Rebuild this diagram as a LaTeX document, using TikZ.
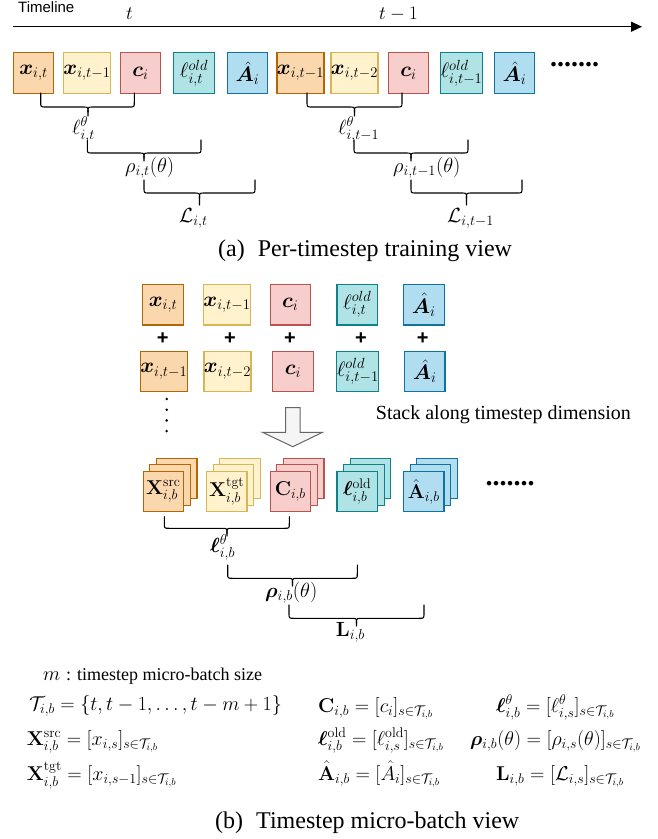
\RequirePackage{fix-cm}
\documentclass[tikz,border=0pt]{standalone}
\usepackage{amsmath,bm}
\usepackage[no-math]{fontspec}
\setmainfont{Liberation Serif}
\newfontfamily\sansf{Liberation Sans}
\usetikzlibrary{arrows.meta}
\definecolor{orF}{HTML}{FAD7AC}\definecolor{orD}{HTML}{B46504}
\definecolor{yeF}{HTML}{FFF2CC}\definecolor{yeD}{HTML}{D6B656}
\definecolor{reF}{HTML}{F8CECC}\definecolor{reD}{HTML}{B85450}
\definecolor{teF}{HTML}{B0E3E6}\definecolor{teD}{HTML}{0E8088}
\definecolor{blF}{HTML}{B1DDF0}\definecolor{blD}{HTML}{10739E}
\definecolor{arF}{HTML}{F5F5F5}\definecolor{arD}{HTML}{666666}
\tikzset{
  cell/.style={draw, line width=1.1pt, minimum width=40.5pt, minimum height=40.5pt, inner sep=0pt, font=\fontsize{21}{23}\selectfont},
  orbox/.style={cell, fill=orF, draw=orD},
  yebox/.style={cell, fill=yeF, draw=yeD},
  rebox/.style={cell, fill=reF, draw=reD},
  tebox/.style={cell, fill=teF, draw=teD},
  blbox/.style={cell, fill=blF, draw=blD},
  stk/.style={font=\fontsize{20}{22}\selectfont},
  brc/.style={line width=1.1pt, line join=round, line cap=round},
  lbl/.style={inner sep=0pt, anchor=base west, font=\fontsize{20.5}{22}\selectfont},
  leg/.style={inner sep=0pt, anchor=base west, font=\fontsize{20}{22}\selectfont},
  plus/.style={inner sep=0pt, font=\sansf\bfseries\fontsize{20}{22}\selectfont},
  dotrow/.style={inner sep=0pt, font=\bfseries\fontsize{28}{28}\selectfont},
  captxt/.style={inner sep=0pt, anchor=base west, font=\fontsize{24}{26}\selectfont},
}
% brace: L, R, top, mid, tip, bottom
\newcommand{\curlyb}[6]{%
  \draw[brc] ({#1},{#3}) -- ({#1},{#4-5}) .. controls ({#1},{#4}) .. ({#1+5},{#4}) -- ({#5-5},{#4}) .. controls ({#5},{#4}) .. ({#5},{#4+5}) -- ({#5},{#6});
  \draw[brc] ({#2},{#3}) -- ({#2},{#4-5}) .. controls ({#2},{#4}) .. ({#2-5},{#4}) -- ({#5+5},{#4}) .. controls ({#5},{#4}) .. ({#5},{#4+5});
}
\newcommand{\stackbox}[5]{% name, style, x, y, label
  \node[#2] (#1r) at ({#3+13.4},{#4-13}) {};
  \node[#2] (#1m) at ({#3+6.7},{#4-6.5}) {};
  \node[#2,stk] (#1) at (#3,#4) {#5};
}
\newcommand{\hatA}{\hat{\bm{A}}}
\begin{document}
\begin{tikzpicture}[x=1pt,y=-1pt]
\useasboundingbox (0,0) rectangle (657,839);
% ---------- timeline ----------
\node[inner sep=0pt, anchor=base west, font=\sansf\fontsize{15}{17}\selectfont] (tlabel) at (18,12) {Timeline};
\coordinate (tl0) at (13,26.7);
\coordinate (tl1) at (642,26.7);
\draw[line width=1.3pt, -{Triangle[length=11pt,width=10pt]}] (tl0) -- (tl1);
\node[inner sep=0pt, anchor=base west, font=\fontsize{19}{21}\selectfont] (tt) at (126,19) {$t$};
\node[inner sep=0pt, anchor=base west, font=\fontsize{19}{21}\selectfont] (tt1) at (379,19) {$t-1$};
% ---------- part (a) boxes ----------
\node[orbox] (a1) at (33.5,73) {$\bm{x}_{i,t}$};
\node[yebox] (a2) at (87,73) {$\bm{x}_{i,t-1}$};
\node[rebox] (a3) at (140.5,73) {$\bm{c}_i$};
\node[tebox] (a4) at (194,73) {$\ell^{old}_{i,t}$};
\node[blbox] (a5) at (247.5,73) {$\hatA_i$};
\node[orbox] (a6) at (300.5,73) {$\bm{x}_{i,t-1}$};
\node[yebox] (a7) at (354.5,73) {$\bm{x}_{i,t-2}$};
\node[rebox] (a8) at (408.5,73) {$\bm{c}_i$};
\node[tebox] (a9) at (461.5,73) {$\ell^{old}_{i,t-1}$};
\node[blbox] (a10) at (514.5,73) {$\hatA_i$};
\node[dotrow] (adots) at (574.7,65) {.......};
% braces (a)
\curlyb{40.7}{134.3}{93}{107}{88}{116}
\curlyb{87.3}{201}{140}{153}{144}{161}
\curlyb{144}{255}{180}{193}{199.5}{205}
\curlyb{307}{402}{93}{107}{354.5}{116}
\curlyb{354}{468}{140}{153}{411}{161}
\curlyb{411}{522}{180}{193}{466.5}{205}
\node[lbl] (la1) at (72,134) {$\ell^{\theta}_{i,t}$};
\node[lbl] (la2) at (125,172) {$\rho_{i,t}(\theta)$};
\node[lbl] (la3) at (179,222) {$\mathcal{L}_{i,t}$};
\node[lbl] (la4) at (338,134) {$\ell^{\theta}_{i,t-1}$};
\node[lbl] (la5) at (393,172) {$\rho_{i,t-1}(\theta)$};
\node[lbl] (la6) at (447,222) {$\mathcal{L}_{i,t-1}$};
\node[captxt] (capa) at (218,256) {(a)\hspace{13pt}Per-timestep training view};
% ---------- part (b) ----------
\node[orbox] (b11) at (163,304.7) {$\bm{x}_{i,t}$};
\node[yebox] (b12) at (227,304.7) {$\bm{x}_{i,t-1}$};
\node[rebox] (b13) at (290.3,304.7) {$\bm{c}_i$};
\node[tebox] (b14) at (357.2,304.7) {$\ell^{old}_{i,t}$};
\node[blbox] (b15) at (423.8,304.7) {$\hatA_i$};
\node[plus] (p1) at (162.7,338.3) {+};
\node[plus] (p2) at (230,338.3) {+};
\node[plus] (p3) at (290,338.3) {+};
\node[plus] (p4) at (361,338.3) {+};
\node[plus] (p5) at (422.7,338.3) {+};
\node[orbox] (b21) at (163.8,371.3) {$\bm{x}_{i,t-1}$};
\node[yebox] (b22) at (227.5,371.3) {$\bm{x}_{i,t-2}$};
\node[rebox] (b23) at (293,371.3) {$\bm{c}_i$};
\node[tebox] (b24) at (357.8,371.3) {$\ell^{old}_{i,t-1}$};
\node[blbox] (b25) at (424.7,371.3) {$\hatA_i$};
\foreach \k in {0,1,2,3} \fill ({166.7},{399+\k*10.7}) circle (1.4pt);
\draw[fill=arF, draw=arD, line width=1pt] (285.7,407.7) -- (300,407.7) -- (300,432.3) -- (322.5,432.3) -- (292.8,446.7) -- (262.5,432.3) -- (285.7,432.3) -- cycle;
\node[inner sep=0pt, anchor=base west, font=\fontsize{20}{22}\selectfont] (stack) at (375.7,419.5) {Stack along timestep dimension};
% stacked
\stackbox{s1}{orbox}{163.3}{491.5}{$\mathbf{X}^{\mathrm{src}}_{i,b}$}
\stackbox{s2}{yebox}{226.7}{491.5}{$\mathbf{X}^{\mathrm{tgt}}_{i,b}$}
\stackbox{s3}{rebox}{290.3}{491.5}{$\mathbf{C}_{i,b}$}
\stackbox{s4}{tebox}{357.2}{491.5}{$\bm{\ell}^{\mathrm{old}}_{i,b}$}
\stackbox{s5}{blbox}{423.7}{491.5}{$\hat{\mathbf{A}}_{i,b}$}
\node[dotrow] (bdots) at (510,483.5) {.......};
% braces (b)
\curlyb{164.3}{289.3}{516.7}{528.3}{227}{536}
\curlyb{227.7}{357.3}{565}{578.3}{292.5}{586}
\curlyb{289}{424}{605}{618.3}{356.5}{626}
\node[lbl] (lb1) at (210,552) {$\bm{\ell}^{\theta}_{i,b}$};
\node[lbl] (lb2) at (265,597) {$\bm{\rho}_{i,b}(\theta)$};
\node[lbl] (lb3) at (335.7,636) {$\mathbf{L}_{i,b}$};
% legend
\node[leg] (lm) at (43,680) {$m$};
\node[inner sep=0pt, anchor=base west, font=\fontsize{18}{20}\selectfont] (lmtext) at (66,680) {: timestep micro-batch size};
\node[leg] (g1) at (29,710) {$\mathcal{T}_{i,b}=\{t,t-1,\ldots,t-m+1\}$};
\node[leg] (g2) at (26.7,745) {$\mathbf{X}^{\mathrm{src}}_{i,b}=[x_{i,s}]_{s\in\mathcal{T}_{i,b}}$};
\node[leg] (g3) at (26.7,780) {$\mathbf{X}^{\mathrm{tgt}}_{i,b}=[x_{i,s-1}]_{s\in\mathcal{T}_{i,b}}$};
\node[leg] (g4) at (318,712) {$\mathbf{C}_{i,b}=[c_i]_{s\in\mathcal{T}_{i,b}}$};
\node[leg] (g5) at (318,745) {$\bm{\ell}^{\mathrm{old}}_{i,b}=[\ell^{\mathrm{old}}_{i,s}]_{s\in\mathcal{T}_{i,b}}$};
\node[leg] (g6) at (318,780) {$\hat{\mathbf{A}}_{i,b}=[\hat{A}_i]_{s\in\mathcal{T}_{i,b}}$};
\node[leg] (g7) at (496,712) {$\bm{\ell}^{\theta}_{i,b}=[\ell^{\theta}_{i,s}]_{s\in\mathcal{T}_{i,b}}$};
\node[leg] (g8) at (470,745) {$\bm{\rho}_{i,b}(\theta)=[\rho_{i,s}(\theta)]_{s\in\mathcal{T}_{i,b}}$};
\node[leg] (g9) at (496,780) {$\mathbf{L}_{i,b}=[\mathcal{L}_{i,s}]_{s\in\mathcal{T}_{i,b}}$};
\node[captxt] (capb) at (215,828) {(b)\hspace{13pt}Timestep micro-batch view};
\end{tikzpicture}
\end{document}
